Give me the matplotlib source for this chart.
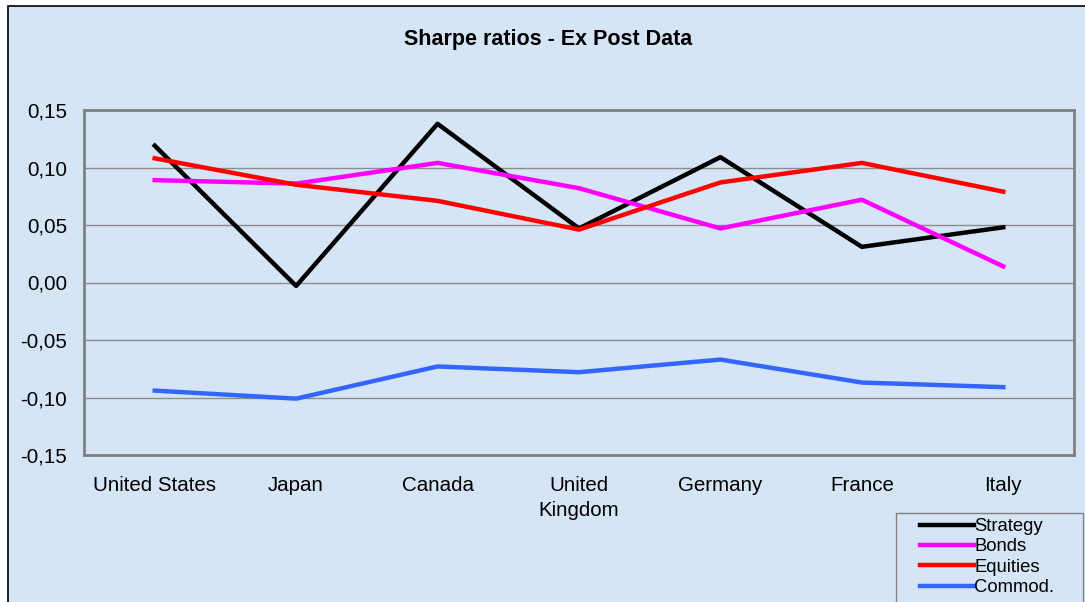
import matplotlib
matplotlib.use("Agg")
import matplotlib.pyplot as plt
from matplotlib.patches import Rectangle
from matplotlib.ticker import FuncFormatter

plt.rcParams['font.family'] = ['Liberation Sans', 'DejaVu Sans']

countries = ['United States', 'Japan', 'Canada', 'United\nKingdom', 'Germany', 'France', 'Italy']
strategy = [0.119, -0.003, 0.138, 0.047, 0.109, 0.031, 0.048]
bonds = [0.089, 0.086, 0.104, 0.082, 0.047, 0.072, 0.014]
equities = [0.108, 0.085, 0.071, 0.046, 0.087, 0.104, 0.079]
commod = [-0.094, -0.101, -0.073, -0.078, -0.067, -0.087, -0.091]

bg = '#d5e5f6'
W, H = 1085, 602
fig = plt.figure(figsize=(W / 100, H / 100), dpi=100)
fig.patch.set_facecolor('white')

# outer chart frame
fig.patches.append(Rectangle((8 / W, -0.01), 1.02, 1 - 6 / H + 0.01,
                             transform=fig.transFigure, facecolor=bg,
                             edgecolor='black', linewidth=1.2, zorder=-10))

ax = fig.add_axes([84 / W, 1 - 455 / H, 990 / W, 345 / H])
ax.set_facecolor(bg)

x = range(len(countries))
l1, = ax.plot(x, strategy, color='black', lw=3.2, label='Strategy')
l2, = ax.plot(x, bonds, color='#ff00ff', lw=3.2, label='Bonds')
l3, = ax.plot(x, equities, color='#ff0000', lw=3.2, label='Equities')
l4, = ax.plot(x, commod, color='#3366ff', lw=3.2, label='Commod.')

ax.set_xlim(-0.5, len(countries) - 0.5)
ax.set_ylim(-0.15, 0.15)
ax.set_yticks([-0.15, -0.10, -0.05, 0.0, 0.05, 0.10, 0.15])
ax.yaxis.set_major_formatter(FuncFormatter(lambda v, p: f'{v:.2f}'.replace('.', ',')))
ax.set_xticks(list(x))
ax.set_xticklabels(countries, fontsize=14.8, va='top', linespacing=1.4)
ax.tick_params(axis='y', labelsize=14.8, length=0, pad=12)
ax.tick_params(axis='x', length=0, pad=15)
ax.grid(axis='y', color='#8c8c8c', lw=1)
ax.set_axisbelow(True)
for s in ax.spines.values():
    s.set_color('#808080')
    s.set_linewidth(2)

fig.text(548 / W, 1 - 40 / H, 'Sharpe ratios - Ex Post Data', ha='center',
         va='center', fontsize=15.5, fontweight='bold')

# legend box frame
fig.patches.append(Rectangle((896 / W, -0.05), 187 / W, 0.05 + 1 - 513 / H,
                             transform=fig.transFigure, facecolor=bg,
                             edgecolor='#808080', linewidth=1, zorder=-5))
leg = fig.legend(handles=[l1, l2, l3, l4], loc='upper left',
                 bbox_to_anchor=(920 / W, 1 - 518 / H), fontsize=13.3,
                 frameon=False, handlelength=2.9,
                 handletextpad=0.05, labelspacing=0.18, borderpad=0,
                 borderaxespad=0)

fig.savefig('out.png', dpi=100, facecolor=fig.get_facecolor())
